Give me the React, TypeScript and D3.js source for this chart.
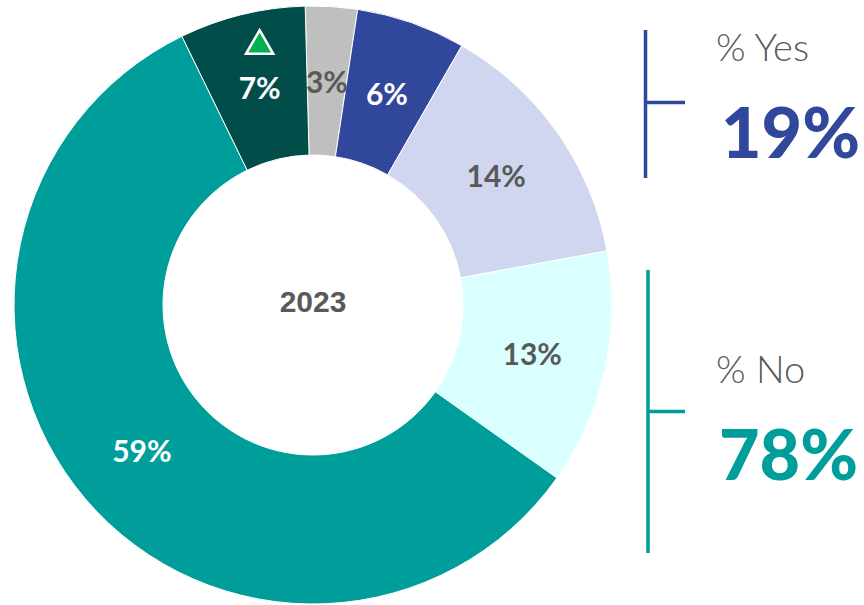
import React from "react";
import * as d3 from "d3";

const categories = ["Gray", "Blue", "Lavender", "Cyan", "Teal", "DarkTeal"];
const values = [2.8, 5.9, 13.8, 12.7, 57.9, 6.8];
const labels = ["3%", "6%", "14%", "13%", "59%", "7%"];
const colors = ["#BFBFBF", "#30479C", "#D0D6F0", "#D9FFFF", "#009E9A", "#004D4A"];
const labelColors = ["#595959", "#FFFFFF", "#595959", "#595959", "#FFFFFF", "#FFFFFF"];
const centerLabel = "2023";
const groups = [
  { title: "% Yes", value: "19%", color: "#30479C" },
  { title: "% No", value: "78%", color: "#009E9A" },
];

const W = 864;
const H = 605;

export default function App() {
  const cx = 313;
  const cy = 305;
  const outerR = 299;
  const innerR = 150;
  const startDeg = -1.5;
  const pie = d3
    .pie<number>()
    .sort(null)
    .value((d) => d)
    .startAngle((startDeg * Math.PI) / 180)
    .endAngle(((startDeg + 360) * Math.PI) / 180);
  const arcs = pie(values);
  const arc = d3.arc<d3.PieArcDatum<number>>().innerRadius(innerR).outerRadius(outerR);
  const labelFont = "'Lato', 'Noto Sans', sans-serif";

  const triIdx = 5;
  const triC = arc.centroid(arcs[triIdx]);
  const tri = d3.symbol().type(d3.symbolTriangle).size(320)();

  return (
    <svg
      width={W}
      height={H}
      style={{ position: "absolute", left: 0, top: 0, background: "#fff" }}
    >
      <g transform={`translate(${cx},${cy})`}>
        {arcs.map((a, i) => (
          <path key={categories[i]} d={arc(a) || ""} fill={colors[i]} stroke="#fff" strokeWidth={1} />
        ))}
        {arcs.map((a, i) => {
          const [x, y] = arc.centroid(a);
          return (
            <text
              key={"l" + i}
              x={x}
              y={y}
              textAnchor="middle"
              dominantBaseline="central"
              fill={labelColors[i]}
              fontFamily={labelFont}
              fontWeight={700}
              fontSize={30}
            >
              {labels[i]}
            </text>
          );
        })}
        <path
          d={tri || ""}
          transform={`translate(${triC[0]},${triC[1] - 41})`}
          fill="#00B050"
          stroke="#fff"
          strokeWidth={2.5}
        />
        <text
          x={0}
          y={-4}
          textAnchor="middle"
          dominantBaseline="central"
          fill="#595959"
          fontFamily="'Liberation Sans', Arial, sans-serif"
          fontWeight={700}
          fontSize={30}
        >
          {centerLabel}
        </text>
      </g>
      {/* Yes bracket */}
      <g>
        <line x1={645.5} x2={645.5} y1={30} y2={178} stroke={groups[0].color} strokeWidth={3.5} />
        <line x1={645} x2={685} y1={102.5} y2={102.5} stroke={groups[0].color} strokeWidth={3.5} />
        <text x={716} y={61} fill="#595959" fontFamily={labelFont} fontWeight={300} fontSize={38}>
          {groups[0].title}
        </text>
        <text x={721} y={158} fill={groups[0].color} fontFamily={labelFont} fontWeight={900} fontSize={70}>
          {groups[0].value}
        </text>
      </g>
      {/* No bracket */}
      <g>
        <line x1={648} x2={648} y1={270} y2={553} stroke={groups[1].color} strokeWidth={3.5} />
        <line x1={648} x2={685} y1={411.5} y2={411.5} stroke={groups[1].color} strokeWidth={3.5} />
        <text x={716} y={383} fill="#595959" fontFamily={labelFont} fontWeight={300} fontSize={38}>
          {groups[1].title}
        </text>
        <text x={719} y={480} fill={groups[1].color} fontFamily={labelFont} fontWeight={900} fontSize={70}>
          {groups[1].value}
        </text>
      </g>
    </svg>
  );
}
